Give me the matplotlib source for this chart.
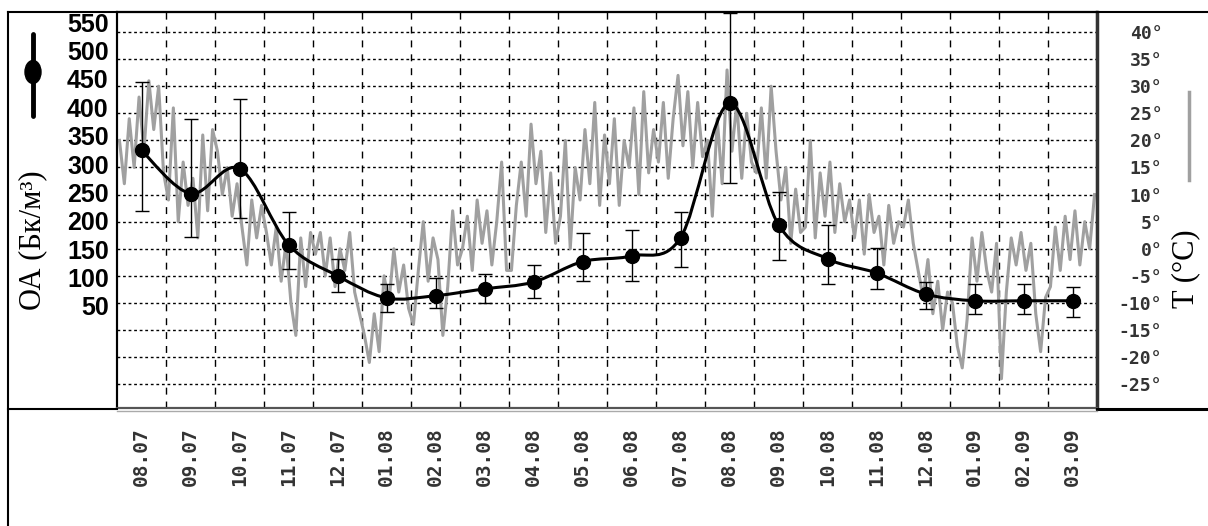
import numpy as np
import matplotlib.pyplot as plt
from matplotlib.lines import Line2D
from matplotlib.patches import Ellipse, PathPatch
from matplotlib.path import Path

# months (08.2007 .. 03.2009), one OA sample per month
months = ["08.07", "09.07", "10.07", "11.07", "12.07", "01.08", "02.08",
          "03.08", "04.08", "05.08", "06.08", "07.08", "08.08", "09.08",
          "10.08", "11.08", "12.08", "01.09", "02.09", "03.09"]
oa = [324, 248, 292, 158, 103, 64, 68, 80, 92, 128, 138, 170, 407, 193,
      133, 108, 71, 59, 59, 59]
oa_hi = [444, 380, 414, 216, 133, 89, 99, 107, 122, 179, 183, 216, 566, 250,
         193, 152, 92, 89, 89, 84]
oa_lo = [218, 172, 205, 115, 75, 39, 46, 55, 64, 94, 94, 119, 267, 130,
         89, 80, 45, 36, 36, 31]

# air temperature, 10 readings per month
temp = [
    [20, 12, 24, 15, 28, 18, 31, 22, 30, 14],
    [9, 26, 5, 16, 8, 13, 2, 21, 7, 22],
    [18, 10, 15, 6, 12, 4, -3, 9, 2, 8],
    [3, -3, 4, -6, 1, -10, -16, 2, -7, 3],
    [-1, 3, -5, 2, -7, 0, -4, 3, -8, -12],
    [-16, -21, -12, -19, -5, -10, 0, -8, -3, -11],
    [-14, -4, 5, -6, 2, -2, -16, -7, 7, -3],
    [0, 6, -4, 9, 1, 7, -3, 5, 16, -4],
    [-4, 8, 16, 6, 23, 12, 18, 3, 14, 1],
    [6, 20, 0, 15, 9, 22, 12, 27, 8, 21],
    [12, 24, 8, 20, 15, 26, 10, 29, 14, 22],
    [16, 27, 13, 24, 32, 19, 29, 15, 27, 17],
    [20, 6, 24, 12, 33, 18, 27, 13, 25, 16],
    [14, 26, 13, 30, 18, 9, 15, 1, 11, 3],
    [4, 20, 2, 14, 6, 16, 3, 12, 5, 9],
    [2, 9, -1, 10, 3, 6, -3, 8, 1, 5],
    [4, 9, 1, -4, -9, -2, -12, -6, -15, -8],
    [-10, -18, -22, -13, 2, -6, 3, -4, -8, 1],
    [-24, -8, 2, -3, 3, -4, 1, -12, -19, -9],
    [-7, 4, -4, 6, -2, 7, -3, 5, 0, 10],
]
t_ticks = list(range(-25, 45, 5))
oa_ticks = list(range(50, 600, 50))

W, H = 1208, 526


def fx(px):
    return px / W


def fy(py):
    return 1 - py / H


fig = plt.figure(figsize=(W / 100, H / 100), dpi=100)
ax = fig.add_axes([fx(117), fy(408), fx(1097) - fx(117), fy(12) - fy(408)])
ax2 = ax.twinx()

# temperature trace
tx, ty = [], []
for m, vals in enumerate(temp):
    for k, v in enumerate(vals):
        tx.append(m + (k + 0.5) / len(vals))
        ty.append(v)
ax.plot(tx, ty, color="#a0a0a0", lw=2.2, zorder=2)

ax.set_xlim(0, 20)
ax.set_ylim(-29.4, 43.7)
ax.set_xticks(range(1, 20))
ax.set_xticklabels([])
ax.set_xticks(np.arange(20) + 0.5, minor=True)
ax.set_xticklabels(months, minor=True, rotation=90, family="DejaVu Sans Mono",
                   weight="bold", fontsize=14, color="#333333")
ax.tick_params(axis="x", which="both", length=0)
ax.tick_params(axis="x", which="minor", pad=13.5)
ax.xaxis.grid(True, which="major", color="k", lw=1, ls=(0, (5, 5)))
ax.yaxis.grid(True, color="k", lw=1, ls=(0, (2, 2)))
ax.set_axisbelow(True)

ax.yaxis.tick_right()
ax.set_yticks(t_ticks)
ax.set_yticklabels([f"{t}°" for t in t_ticks], family="DejaVu Sans Mono",
                   weight="bold", fontsize=13, color="#333333")
for lab in ax.get_yticklabels():
    lab.set_horizontalalignment("right")
ax.tick_params(axis="y", length=0, pad=47)

# OA with error bars and smoothed connecting line
xc = np.arange(len(oa)) + 0.5
yv = np.array(oa, dtype=float)
pts = np.column_stack([xc, yv])
n = len(pts)
verts = [pts[0]]
codes = [Path.MOVETO]
for i in range(n - 1):
    p0 = pts[max(i - 1, 0)]
    p1 = pts[i]
    p2 = pts[i + 1]
    p3 = pts[min(i + 2, n - 1)]
    verts += [p1 + (p2 - p0) / 6, p2 - (p3 - p1) / 6, p2]
    codes += [Path.CURVE4] * 3
ax2.add_patch(PathPatch(Path(verts, codes), fill=False, lw=2.2, color="k", zorder=3))
yerr = [yv - np.array(oa_lo), np.array(oa_hi) - yv]
ax2.errorbar(xc, yv, yerr=yerr, fmt="o", color="k", ms=10, elinewidth=1,
             capsize=5, capthick=1, zorder=4)
ax2.set_ylim(-130, 568)
ax2.yaxis.tick_left()
ax2.set_yticks(oa_ticks)
ax2.set_yticklabels([str(v) for v in oa_ticks], family="Liberation Sans",
                    weight="bold", fontsize=18)
ax2.tick_params(axis="y", length=0, pad=6)

for a in (ax, ax2):
    for s in a.spines.values():
        s.set_linewidth(1.5)
ax2.spines["right"].set_linewidth(2.5)
ax2.spines["right"].set_color("#333333")
ax2.spines["bottom"].set_color("#555555")

# outer frame and panel borders
for xs, ys, c, lw in [
    ([8, 8], [12, 526], "k", 1.5),
    ([8, 1208], [12, 12], "k", 1.5),
    ([8, 117], [409, 409], "k", 1.5),
    ([1097, 1208], [409, 409], "k", 2.2),
    ([117, 1097], [411, 411], "#aaaaaa", 1.0),
]:
    fig.add_artist(Line2D([fx(x) for x in xs], [fy(y) for y in ys],
                          color=c, lw=lw, transform=fig.transFigure))

# legend symbols and axis titles
fig.add_artist(Line2D([fx(33), fx(33)], [fy(34), fy(116)], color="k", lw=3.5,
                      solid_capstyle="round", transform=fig.transFigure))
fig.add_artist(Ellipse((fx(33), fy(72)), 16 / W, 23 / H, color="k",
                       transform=fig.transFigure))
fig.text(fx(33), fy(240), "ОА (Бк/м³)", rotation=90, ha="center", va="center",
         family="Liberation Serif", fontsize=22)

fig.add_artist(Line2D([fx(1189), fx(1189)], [fy(92), fy(180)], color="#a0a0a0",
                      lw=2.5, transform=fig.transFigure))
fig.text(fx(1186), fy(269), "T (°C)", rotation=90, ha="center", va="center",
         family="Liberation Serif", fontsize=22)

fig.savefig("out.png", dpi=100)
